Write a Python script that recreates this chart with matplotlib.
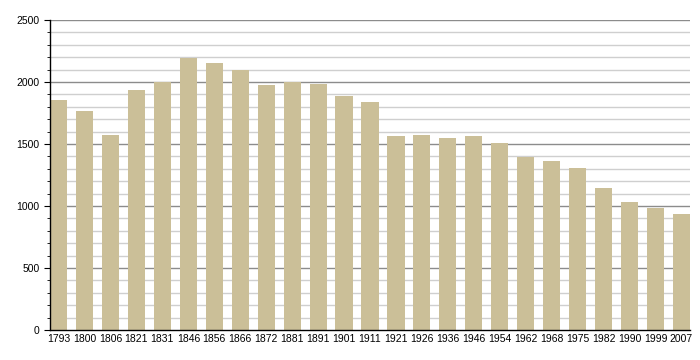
import matplotlib.pyplot as plt
from matplotlib.ticker import MultipleLocator

plt.rcParams['font.family'] = ['Liberation Sans', 'DejaVu Sans']

years = ['1793', '1800', '1806', '1821', '1831', '1846', '1856', '1866', '1872',
         '1881', '1891', '1901', '1911', '1921', '1926', '1936', '1946', '1954',
         '1962', '1968', '1975', '1982', '1990', '1999', '2007']
population = [1858, 1770, 1575, 1935, 1998, 2192, 2155, 2098, 1978,
              1998, 1985, 1888, 1840, 1567, 1573, 1550, 1566, 1505,
              1398, 1363, 1310, 1145, 1030, 982, 935]

fig = plt.figure(figsize=(7, 3.6), dpi=100)
ax = fig.add_axes([50/700, 30/360, 640/700, 310/360])

w = 0.66
x = range(len(years))

# grid: light every 100, darker every 500
for v in range(100, 2600, 100):
    if v % 500 == 0:
        ax.axhline(v, color='#8c8c8c', lw=1, zorder=0)
    else:
        ax.axhline(v, color='#cfcfcf', lw=1, zorder=0)

ax.bar(x, population, width=w, color='#cbbf98', zorder=2)

ax.set_xlim(-w/2, len(years) - 1 + w/2)
ax.set_ylim(0, 2500)
ax.set_xticks(list(x))
ax.set_xticklabels(years, fontsize=7.5)
ax.yaxis.set_major_locator(MultipleLocator(500))
ax.yaxis.set_minor_locator(MultipleLocator(100))
ax.tick_params(axis='y', which='major', labelsize=7.5, length=4, color='black')
ax.tick_params(axis='y', which='minor', length=2, color='black')
ax.tick_params(axis='x', length=0, pad=3)

ax.spines['top'].set_visible(False)
ax.spines['right'].set_visible(False)
ax.spines['left'].set_linewidth(1)
ax.spines['bottom'].set_linewidth(1)

fig.savefig('out.png', dpi=100)
